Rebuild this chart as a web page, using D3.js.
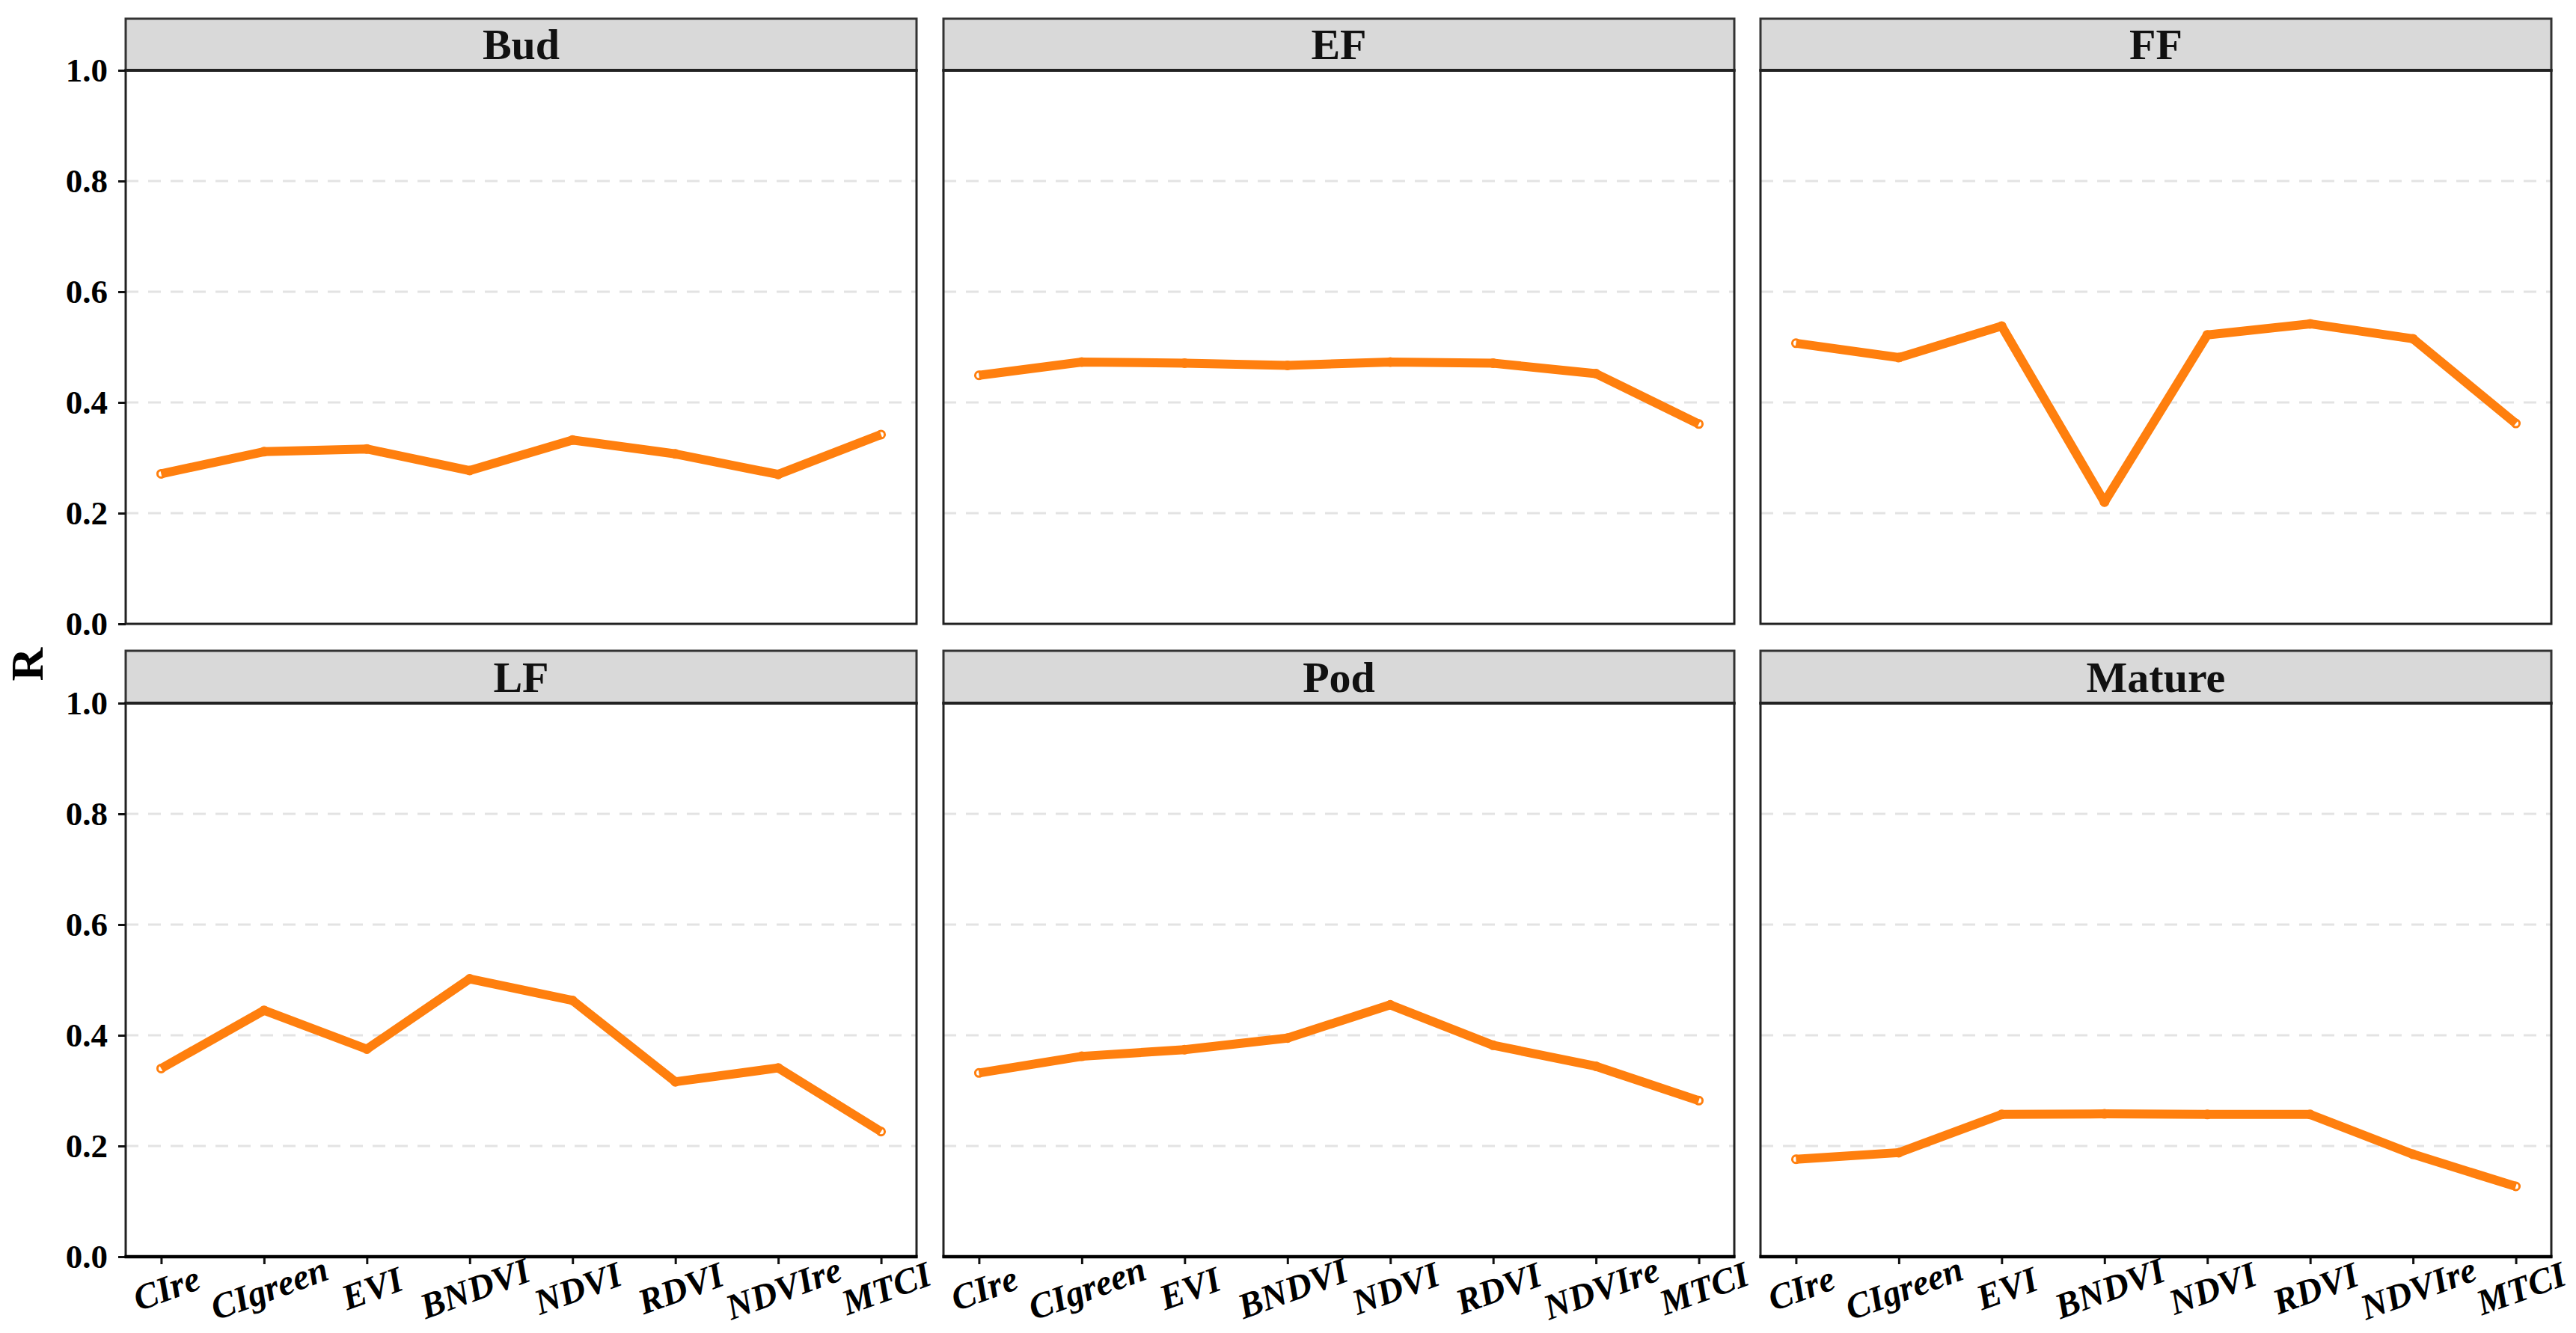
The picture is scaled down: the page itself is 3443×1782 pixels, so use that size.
<!DOCTYPE html>
<html>
<head>
<meta charset="utf-8">
<script src="https://cdn.jsdelivr.net/npm/d3@7"></script>
<style>
html, body { margin: 0; padding: 0; background: #fff; }
svg { display: block; }
</style>
</head>
<body>
<svg id="chart" width="3443" height="1782"></svg>
<script>
const categories = ["CIre", "CIgreen", "EVI", "BNDVI", "NDVI", "RDVI", "NDVIre", "MTCI"];
const stages = ["Bud", "EF", "FF", "LF", "Pod", "Mature"];
const budValues    = [0.271, 0.311, 0.316, 0.277, 0.332, 0.307, 0.270, 0.342];
const efValues     = [0.449, 0.473, 0.471, 0.467, 0.473, 0.471, 0.452, 0.361];
const ffValues     = [0.507, 0.481, 0.538, 0.220, 0.522, 0.542, 0.515, 0.362];
const lfValues     = [0.340, 0.445, 0.375, 0.502, 0.463, 0.316, 0.341, 0.226];
const podValues    = [0.332, 0.362, 0.374, 0.395, 0.455, 0.382, 0.344, 0.282];
const matureValues = [0.176, 0.188, 0.257, 0.258, 0.257, 0.257, 0.185, 0.127];
const yTicks = [0.0, 0.2, 0.4, 0.6, 0.8, 1.0];
const yTitle = "R";

const seriesByStage = [budValues, efValues, ffValues, lfValues, podValues, matureValues];

const svg = d3.select("#chart");
const FONT = "'Liberation Serif', 'Times New Roman', serif";
const ORANGE = "#FF7F0E";

const colX = [168, 1261, 2353];
const panelW = 1057;
const rows = [
  { stripTop: 25, top: 94, bottom: 834 },
  { stripTop: 870, top: 940, bottom: 1680 }
];

const x = d3.scalePoint().domain(categories).range([0, panelW]).padding(0.345);

stages.forEach((stage, i) => {
  const col = i % 3, row = Math.floor(i / 3);
  const r = rows[row];
  const g = svg.append("g").attr("transform", `translate(${colX[col]},0)`);
  const y = d3.scaleLinear().domain([0, 1]).range([r.bottom, r.top]);

  // grid lines
  g.selectAll(".grid").data(yTicks.filter(t => t > 0 && t < 1)).enter()
    .append("line")
    .attr("x1", 0).attr("x2", panelW)
    .attr("y1", d => y(d)).attr("y2", d => y(d))
    .attr("stroke", "#e3e3e3").attr("stroke-width", 3)
    .attr("stroke-dasharray", "17,13");

  const vals = seriesByStage[i];
  const data = categories.map((c, k) => ({ c, v: vals[k] }));

  // points (hollow, below the line)
  g.selectAll(".pt").data(data).enter().append("circle")
    .attr("cx", d => x(d.c)).attr("cy", d => y(d.v))
    .attr("r", 5).attr("fill", "#fff")
    .attr("stroke", ORANGE).attr("stroke-width", 3);

  const line = d3.line().x(d => x(d.c)).y(d => y(d.v));
  g.append("path").datum(data)
    .attr("d", line)
    .attr("fill", "none")
    .attr("stroke", ORANGE)
    .attr("stroke-width", 12)
    .attr("stroke-linejoin", "round")
    .attr("stroke-linecap", "butt");

  // panel border
  g.append("rect")
    .attr("x", 0).attr("y", r.top)
    .attr("width", panelW).attr("height", r.bottom - r.top)
    .attr("fill", "none").attr("stroke", "#222").attr("stroke-width", 3);

  // strip
  g.append("rect")
    .attr("x", 0).attr("y", r.stripTop)
    .attr("width", panelW).attr("height", r.top - r.stripTop)
    .attr("fill", "#d9d9d9").attr("stroke", "#333").attr("stroke-width", 3);
  g.append("line")
    .attr("x1", -1.5).attr("x2", panelW + 1.5)
    .attr("y1", r.top).attr("y2", r.top)
    .attr("stroke", "#222").attr("stroke-width", 4);
  g.append("text")
    .attr("x", panelW / 2).attr("y", (r.stripTop + r.top) / 2)
    .attr("text-anchor", "middle").attr("dominant-baseline", "central")
    .attr("font-family", FONT).attr("font-weight", "bold")
    .attr("font-size", 58).attr("fill", "#111")
    .text(stage);

  // y axis (first column)
  if (col === 0) {
    const yAxis = d3.axisLeft(y).tickValues(yTicks).tickFormat(d3.format(".1f"))
      .tickSize(10).tickPadding(14);
    const ga = g.append("g").call(yAxis);
    ga.select(".domain").remove();
    ga.selectAll(".tick line").attr("stroke", "#111").attr("stroke-width", 3);
    ga.selectAll(".tick text")
      .attr("font-family", FONT).attr("font-weight", "bold")
      .attr("font-size", 45).attr("fill", "#000");
  }

  // x axis (bottom row)
  if (row === 1) {
    const xAxis = d3.axisBottom(x).tickSize(10).tickFormat("");
    const gx = g.append("g").attr("transform", `translate(0,${r.bottom})`).call(xAxis);
    gx.select(".domain").remove();
    gx.selectAll(".tick line").attr("stroke", "#111").attr("stroke-width", 3);
    g.append("line")
      .attr("x1", -1.5).attr("x2", panelW + 1.5)
      .attr("y1", r.bottom).attr("y2", r.bottom)
      .attr("stroke", "#000").attr("stroke-width", 4.5);
    g.selectAll(".xlab").data(categories).enter().append("text")
      .attr("transform", d => `translate(${x(d) + 7},${r.bottom + 42}) rotate(-20)`)
      .attr("text-anchor", "middle").attr("dominant-baseline", "central")
      .attr("font-family", FONT).attr("font-weight", "bold").attr("font-style", "italic")
      .attr("font-size", 48).attr("fill", "#000")
      .text(d => d);
  }
});

// y title
svg.append("text")
  .attr("transform", "translate(36,888) rotate(-90)")
  .attr("text-anchor", "middle").attr("dominant-baseline", "central")
  .attr("font-family", FONT).attr("font-weight", "bold")
  .attr("font-size", 62).attr("fill", "#000")
  .text(yTitle);
</script>
</body>
</html>
